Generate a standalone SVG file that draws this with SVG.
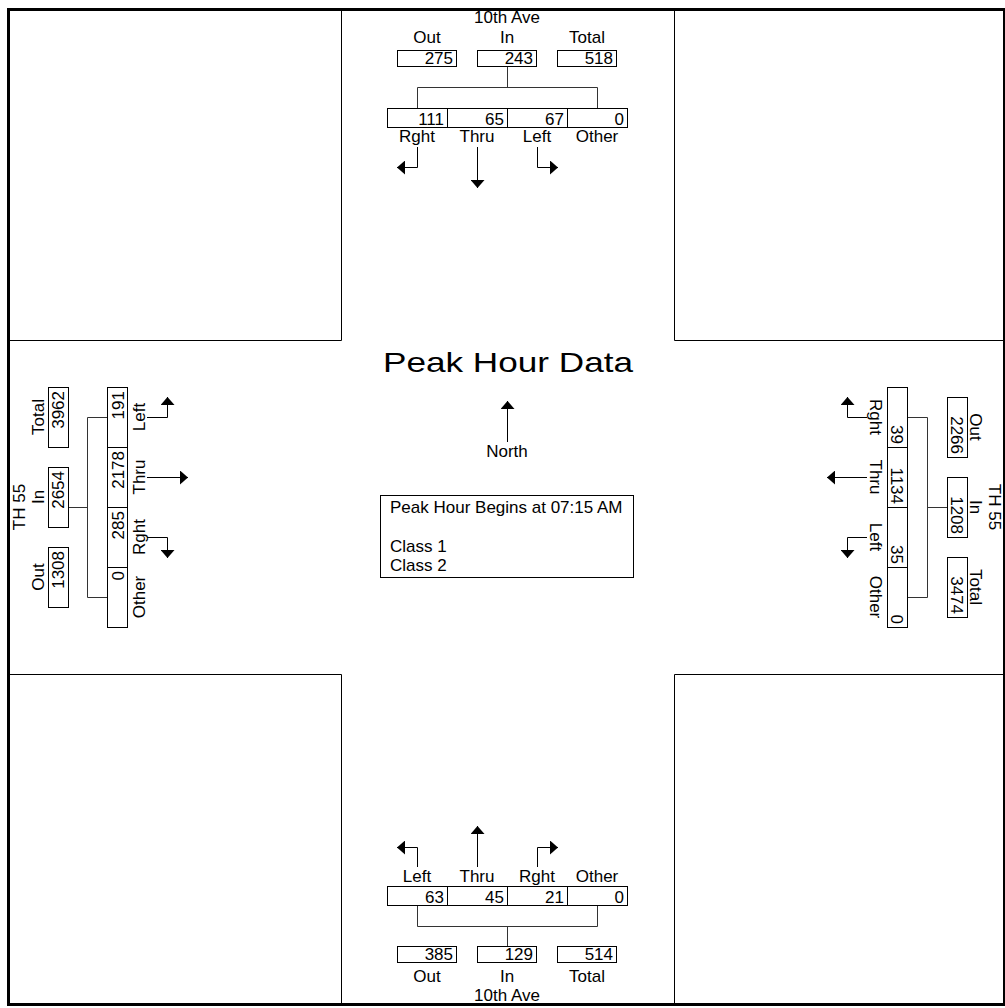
<svg xmlns="http://www.w3.org/2000/svg" width="1005" height="1008" viewBox="0 0 1005 1008">
<defs>
<style>
text{font-family:"Liberation Sans",Arial,sans-serif;font-size:17px;fill:#000}
.m{text-anchor:middle}
.e{text-anchor:end}
.bx{fill:#fff;stroke:#000;stroke-width:1}
.ln{fill:none;stroke:#000;stroke-width:1}
.br{fill:none;stroke:#333;stroke-width:1}
.ar{fill:none;stroke:#000;stroke-width:1;marker-end:url(#ah)}
</style>
<marker id="ah" markerUnits="userSpaceOnUse" viewBox="0 0 8 14" markerWidth="8" markerHeight="14" refX="8" refY="7" orient="auto">
<path d="M0,0 L8,7 L0,14 Z" fill="#000"/>
</marker>
</defs>
<rect x="0" y="0" width="1005" height="1008" fill="#fff"/>

<g id="frame">
<rect x="8.5" y="9.5" width="996" height="995" fill="none" stroke="#000" stroke-width="3"/>
<path class="ln" d="M10,340.5 H341.5 V10 M674.5,10 V340.5 H1003 M10,674.5 H341.5 V1003 M674.5,1003 V674.5 H1003"/>
</g>

<g id="connectors">
<path class="br" d="M507.5,66.5 V87.5 M417.5,108.5 V87.5 H597.5 V108.5"/>
<path class="br" d="M507.5,946.5 V926.5 M417.5,905.5 V926.5 H597.5 V905.5"/>
<path class="br" d="M68.5,507.5 H87.5 M107.5,417.5 H87.5 V597.5 H107.5"/>
<path class="br" d="M947.5,507.5 H927.5 M907.5,417.5 H927.5 V597.5 H907.5"/>
<path class="ar" d="M417.5,147 V167.5 H397"/>
<path class="ar" d="M477.5,147 V188"/>
<path class="ar" d="M537.5,147 V167.5 H558"/>
<path class="ar" d="M417.5,867 V847.5 H397"/>
<path class="ar" d="M477.5,867 V826"/>
<path class="ar" d="M537.5,867 V847.5 H558"/>
<path class="ar" d="M147,417.5 H167.5 V397"/>
<path class="ar" d="M147,477.5 H188"/>
<path class="ar" d="M147,537.5 H167.5 V558"/>
<path class="ar" d="M867,417.5 H847.5 V397"/>
<path class="ar" d="M867,477.5 H827"/>
<path class="ar" d="M867,537.5 H847.5 V558"/>
<path class="ar" d="M507.5,442 V401"/>
</g>

<g id="north-approach">
<text class="m" x="507" y="23">10th Ave</text>
<text class="m" x="427" y="43">Out</text>
<text class="m" x="507" y="43">In</text>
<text class="m" x="587" y="43">Total</text>
<rect class="bx" x="397.5" y="50.5" width="59" height="16"/>
<rect class="bx" x="477.5" y="50.5" width="59" height="16"/>
<rect class="bx" x="557.5" y="50.5" width="59" height="16"/>
<text class="e" x="453" y="64">275</text>
<text class="e" x="533" y="64">243</text>
<text class="e" x="613" y="64">518</text>
<rect class="bx" x="387.5" y="108.5" width="60" height="19"/>
<rect class="bx" x="447.5" y="108.5" width="60" height="19"/>
<rect class="bx" x="507.5" y="108.5" width="60" height="19"/>
<rect class="bx" x="567.5" y="108.5" width="60" height="19"/>
<text class="e" x="444" y="125">111</text>
<text class="e" x="504" y="125">65</text>
<text class="e" x="564" y="125">67</text>
<text class="e" x="624" y="125">0</text>
<text class="m" x="417" y="142">Rght</text>
<text class="m" x="477" y="142">Thru</text>
<text class="m" x="537" y="142">Left</text>
<text class="m" x="597" y="142">Other</text>
</g>

<g id="south-approach">
<text class="m" x="417" y="882">Left</text>
<text class="m" x="477" y="882">Thru</text>
<text class="m" x="537" y="882">Rght</text>
<text class="m" x="597" y="882">Other</text>
<rect class="bx" x="387.5" y="886.5" width="60" height="19"/>
<rect class="bx" x="447.5" y="886.5" width="60" height="19"/>
<rect class="bx" x="507.5" y="886.5" width="60" height="19"/>
<rect class="bx" x="567.5" y="886.5" width="60" height="19"/>
<text class="e" x="444" y="903">63</text>
<text class="e" x="504" y="903">45</text>
<text class="e" x="564" y="903">21</text>
<text class="e" x="624" y="903">0</text>
<rect class="bx" x="397.5" y="946.5" width="59" height="16"/>
<rect class="bx" x="477.5" y="946.5" width="59" height="16"/>
<rect class="bx" x="557.5" y="946.5" width="59" height="16"/>
<text class="e" x="453" y="960">385</text>
<text class="e" x="533" y="960">129</text>
<text class="e" x="613" y="960">514</text>
<text class="m" x="427" y="982">Out</text>
<text class="m" x="507" y="982">In</text>
<text class="m" x="587" y="982">Total</text>
<text class="m" x="507" y="1001">10th Ave</text>
</g>

<g id="west-approach">
<text class="m" transform="translate(25,507) rotate(-90)">TH 55</text>
<text class="m" transform="translate(44,417) rotate(-90)">Total</text>
<text class="m" transform="translate(44,497) rotate(-90)">In</text>
<text class="m" transform="translate(44,577) rotate(-90)">Out</text>
<rect class="bx" x="48.5" y="387.5" width="20" height="60"/>
<rect class="bx" x="48.5" y="467.5" width="20" height="60"/>
<rect class="bx" x="48.5" y="547.5" width="20" height="60"/>
<text class="e" transform="translate(64,391) rotate(-90)">3962</text>
<text class="e" transform="translate(64,471) rotate(-90)">2654</text>
<text class="e" transform="translate(64,551) rotate(-90)">1308</text>
<rect class="bx" x="107.5" y="387.5" width="20" height="60"/>
<rect class="bx" x="107.5" y="447.5" width="20" height="60"/>
<rect class="bx" x="107.5" y="507.5" width="20" height="60"/>
<rect class="bx" x="107.5" y="567.5" width="20" height="60"/>
<text class="e" transform="translate(124,391) rotate(-90)">191</text>
<text class="e" transform="translate(124,451) rotate(-90)">2178</text>
<text class="e" transform="translate(124,511) rotate(-90)">285</text>
<text class="e" transform="translate(124,571) rotate(-90)">0</text>
<text class="m" transform="translate(145,417) rotate(-90)">Left</text>
<text class="m" transform="translate(145,477) rotate(-90)">Thru</text>
<text class="m" transform="translate(145,537) rotate(-90)">Rght</text>
<text class="m" transform="translate(145,597) rotate(-90)">Other</text>
</g>

<g id="east-approach">
<text class="m" transform="translate(870,417) rotate(90)">Rght</text>
<text class="m" transform="translate(870,477) rotate(90)">Thru</text>
<text class="m" transform="translate(870,537) rotate(90)">Left</text>
<text class="m" transform="translate(870,597) rotate(90)">Other</text>
<rect class="bx" x="887.5" y="387.5" width="20" height="60"/>
<rect class="bx" x="887.5" y="447.5" width="20" height="60"/>
<rect class="bx" x="887.5" y="507.5" width="20" height="60"/>
<rect class="bx" x="887.5" y="567.5" width="20" height="60"/>
<text class="e" transform="translate(891,444) rotate(90)">39</text>
<text class="e" transform="translate(891,504) rotate(90)">1134</text>
<text class="e" transform="translate(891,564) rotate(90)">35</text>
<text class="e" transform="translate(891,624) rotate(90)">0</text>
<rect class="bx" x="947.5" y="397.5" width="20" height="60"/>
<rect class="bx" x="947.5" y="477.5" width="20" height="60"/>
<rect class="bx" x="947.5" y="557.5" width="20" height="60"/>
<text class="e" transform="translate(951,454) rotate(90)">2266</text>
<text class="e" transform="translate(951,534) rotate(90)">1208</text>
<text class="e" transform="translate(951,614) rotate(90)">3474</text>
<text class="m" transform="translate(970,427) rotate(90)">Out</text>
<text class="m" transform="translate(970,507) rotate(90)">In</text>
<text class="m" transform="translate(970,587) rotate(90)">Total</text>
<text class="m" transform="translate(989,507) rotate(90)">TH 55</text>
</g>

<g id="center">
<text class="m" x="508" y="372" style="font-size:28px" textLength="250" lengthAdjust="spacingAndGlyphs">Peak Hour Data</text>
<text class="m" x="507" y="457">North</text>
<rect class="bx" x="380.5" y="495.5" width="253" height="82"/>
<text x="390" y="513">Peak Hour Begins at 07:15 AM</text>
<text x="390" y="552">Class 1</text>
<text x="390" y="571">Class 2</text>
</g>
</svg>
